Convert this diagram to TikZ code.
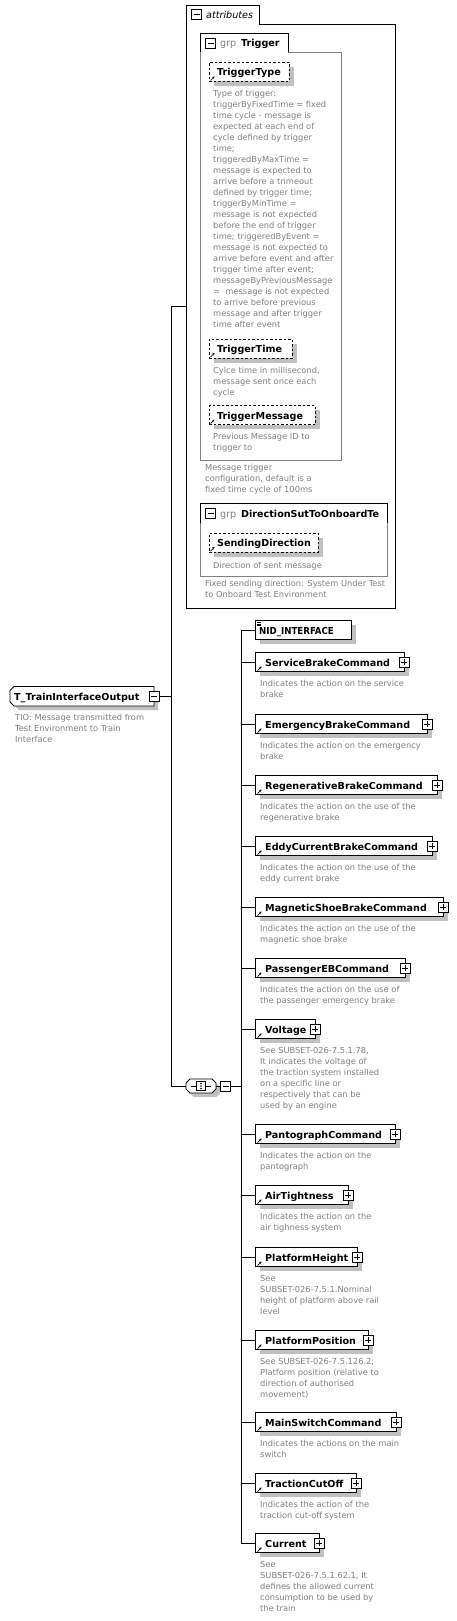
\documentclass[tikz,border=0pt]{standalone}
\usepackage{fontspec}
\usepackage{graphicx}
\setmainfont{DejaVu Sans}
\usetikzlibrary{arrows.meta}
\definecolor{desccol}{RGB}{128,128,128}
\definecolor{shadowcol}{RGB}{192,192,192}
\definecolor{grpline}{RGB}{128,128,128}
\tikzset{
  conn/.style={draw=black, line width=0.9pt},
  elbox/.style={draw=black, fill=white, line width=0.9pt, inner sep=0pt, minimum height=19pt},
  attbox/.style={elbox, dash pattern=on 2.5pt off 2pt},
  nametext/.style={font=\fontsize{9.6}{11}\selectfont\bfseries, inner sep=0pt, anchor=base west},
  grptext/.style={font=\fontsize{9.6}{11}\selectfont, text=desccol, inner sep=0pt, anchor=base west},
  italtext/.style={font=\fontsize{9.6}{11}\selectfont\itshape, inner sep=0pt, anchor=base west},
  desc/.style={font=\fontsize{8.3}{11}\selectfont, text=desccol, inner sep=0pt, anchor=north west, align=left,
    execute at begin node={\rule{0pt}{8pt}}},
  pmbox/.style={draw=black, fill=white, line width=0.8pt, minimum size=10pt, inner sep=0pt},
  shadowfill/.style={fill=shadowcol},
  refarrow/.style={line width=0.7pt, -{Stealth[length=2.4pt,width=2.6pt]}},
  grpborder/.style={draw=grpline, line width=0.9pt},
  blk/.style={draw=black, line width=0.9pt},
}
\newcommand\pmplus[3]{%
  \fill[black!80] ({#2-4},{#3-4}) rectangle ({#2+6},{#3+6});
  \node[pmbox] (#1) at (#2,#3) {};
  \draw[line width=0.8pt] ({#2-3},#3) -- ({#2+3},#3) (#2,{#3-3}) -- (#2,{#3+3});
}
\newcommand\pmminus[3]{%
  \node[pmbox] (#1) at (#2,#3) {};
  \draw[line width=0.8pt] ({#2-3},#3) -- ({#2+3},#3);
}
\newcommand\childel[5]{%
  \coordinate (b-#1) at (241,#2);
  \fill[shadowfill] (259.5,{#2-5}) rectangle ({#3+4.5},{#2+14});
  \node[elbox, minimum width={(#3-255)*1pt}, anchor=west] (#1) at (255,#2) {};
  \draw[conn] (b-#1) -- (#1.west);
  \node[nametext] (#1-t) at (265,{#2+4}) {#4};
  \draw[refarrow] (257.5,{#2+8.5}) -- (261.5,{#2+4.5});
  \node[desc] (#1-d) at (260,{#2+18}) {#5};
  \pmplus{#1-p}{#3}{#2}
}
\newcommand\attrel[5]{%
  \fill[shadowfill] (213.5,{#2-5}) rectangle ({#3+4.5},{#2+14});
  \node[attbox, minimum width={(#3-209)*1pt}, anchor=west] (#1) at (209,#2) {};
  \node[nametext] (#1-t) at (217,{#2+4}) {#4};
  \draw[refarrow] (210.5,{#2+8.5}) -- (214.5,{#2+4.5});
  \node[desc] (#1-d) at (213,{#2+18}) {#5};
}
\begin{document}
\begin{tikzpicture}[x=1pt,y=-1pt]
\useasboundingbox[fill=white] (0,0) rectangle (457,1621);

% ---------- attributes group ----------
\draw[blk] (259,24) -- (395,24) -- (395,608) -- (186,608) -- (186,24);
\draw[blk] (186,24) -- (186,5) -- (259,5) -- (259,24);
\pmminus{attr-m}{196.5}{14.5}
\node[italtext] (attr-t) at (206,18.5) {attributes};

% Trigger group
\draw[grpborder] (288,52) -- (341,52) -- (341,460) -- (200,460) -- (200,52);
\draw[blk] (200,52) -- (200,33) -- (288,33) -- (288,52);
\pmminus{trg-m}{210.5}{43}
\node[grptext] (trg-g) at (220,47) {grp};
\node[nametext] (trg-t) at (241,47) {Trigger};

\attrel{ttype}{72}{289}{TriggerType}{Type of trigger:\\triggerByFixedTime = fixed\\time cycle - message is\\expected at each end of\\cycle defined by trigger\\time;\\triggeredByMaxTime =\\message is expected to\\arrive before a trimeout\\defined by trigger time;\\triggerByMinTime =\\message is not expected\\before the end of trigger\\time; triggeredByEvent =\\message is not expected to\\arrive before event and after\\trigger time after event;\\messageByPreviousMessage\\= \ message is not expected\\to arrive before previous\\message and after trigger\\time after event}
\attrel{ttime}{348.5}{292}{TriggerTime}{Cylce time in millisecond,\\message sent once each\\cycle}
\attrel{tmsg}{415}{315}{TriggerMessage}{Previous Message ID to\\trigger to}
\node[desc] (trg-d) at (205,464) {Message trigger\\configuration, default is a\\fixed time cycle of 100ms};

% Direction group
\draw[grpborder] (387,523) -- (387,576) -- (200,576) -- (200,523);
\draw[blk] (200,523) -- (200,503) -- (387,503) -- (387,523);
\pmminus{dir-m}{210.5}{513}
\node[grptext] (dir-g) at (220,517.5) {grp};
\node[nametext] (dir-t) at (241,517.5) {DirectionSutToOnboardTe};
\attrel{sdir}{542.5}{318}{SendingDirection}{Direction of sent message}
\node[desc] (dir-d) at (205,580) {Fixed sending direction: System Under Test\\to Onboard Test Environment};

% ---------- main element ----------
\fill[shadowfill] (19,690.5) -- (158,690.5) -- (158,710) -- (19,710) -- (15,706) -- (15,694.5) -- cycle;
\draw[blk, fill=white] (14,686.5) -- (154,686.5) -- (154,706) -- (14,706) -- (10,702) -- (10,690.5) -- cycle;
\node[nametext] (main) at (14,700) {T\_TrainInterfaceOutput};
\pmminus{main-m}{154}{696}
\node[desc] (main-d) at (15,714) {TIO: Message transmitted from\\Test Environment to Train\\Interface};

% ---------- sequence compositor ----------
\fill[shadowfill] (194,1083) -- (216,1083) -- (220,1087) -- (220,1093) -- (216,1097) -- (194,1097) -- (190,1093) -- (190,1087) -- cycle;
\node[minimum width=30pt, minimum height=14pt, inner sep=0pt] (seq) at (201,1086) {};
\draw[blk, fill=white] (190,1079) -- (212,1079) -- (216,1083) -- (216,1089) -- (212,1093) -- (190,1093) -- (186,1089) -- (186,1083) -- cycle;
\draw[line width=0.8pt] (191,1086) -- (211,1086);
\draw[line width=0.7pt, fill=white] (196.5,1081.5) rectangle (205.5,1090.5);
\fill (201,1083.5) circle (0.9) (201,1086) circle (0.9) (201,1088.5) circle (0.9);
\pmminus{seq-m}{225.5}{1086}
\draw[conn] (seq.east) -- (seq-m.west);

% ---------- left connectors ----------
\coordinate (attr-w) at (186,306);
\coordinate (bus-attr) at (171,306);
\coordinate (bus-main) at (171,696);
\coordinate (bus-seq) at (171,1086);
\draw[conn] (attr-w) -- (bus-attr) -- (bus-seq) -- (seq.west);
\draw[conn] (main-m.east) -- (bus-main);

% ---------- children ----------
\coordinate (b-nid) at (241,630);
\coordinate (bus-r) at (241,1086);
\draw[conn] (seq-m.east) -- (bus-r);
\draw[conn] (b-nid) -- (241,1543);
\fill[shadowfill] (259.5,625) rectangle (355.5,644);
\node[elbox, minimum width=96pt, anchor=west] (nid) at (255,630) {};
\draw[conn] (b-nid) -- (nid.west);
\node[nametext] (nid-t) at (259,634) {\scalebox{0.9}[1]{NID\_INTERFACE}};
\draw[line width=0.6pt] (256.5,622.5) -- (260.5,622.5) (256.5,624) -- (260.5,624) (256.5,625.5) -- (260.5,625.5);

\childel{svc}{662}{404}{ServiceBrakeCommand}{Indicates the action on the service\\brake}
\childel{emb}{724}{427}{EmergencyBrakeCommand}{Indicates the action on the emergency\\brake}
\childel{reg}{785}{437}{RegenerativeBrakeCommand}{Indicates the action on the use of the\\regenerative brake}
\childel{edd}{846}{432}{EddyCurrentBrakeCommand}{Indicates the action on the use of the\\eddy current brake}
\childel{mag}{907}{443}{MagneticShoeBrakeCommand}{Indicates the action on the use of the\\magnetic shoe brake}
\childel{peb}{968}{405}{PassengerEBCommand}{Indicates the action on the use of\\the passenger emergency brake}
\childel{vol}{1029}{315}{Voltage}{See SUBSET-026-7.5.1.78,\\It indicates the voltage of\\the traction system installed\\on a specific line or\\respectively that can be\\used by an engine}
\childel{pan}{1134}{395}{PantographCommand}{Indicates the action on the\\pantograph}
\childel{air}{1195}{348}{AirTightness}{Indicates the action on the\\air tighness system}
\childel{plh}{1257}{357}{PlatformHeight}{See\\SUBSET-026-7.5.1.Nominal\\height of platform above rail\\level}
\childel{plp}{1340}{368}{PlatformPosition}{See SUBSET-026-7.5.126.2;\\Platform position (relative to\\direction of authorised\\movement)}
\childel{msw}{1422}{396}{MainSwitchCommand}{Indicates the actions on the main\\switch}
\childel{tco}{1483}{356}{TractionCutOff}{Indicates the action of the\\traction cut-off system}
\childel{cur}{1543}{319}{Current}{See\\SUBSET-026-7.5.1.62.1, It\\defines the allowed current\\consumption to be used by\\the train}
\end{tikzpicture}
\end{document}
